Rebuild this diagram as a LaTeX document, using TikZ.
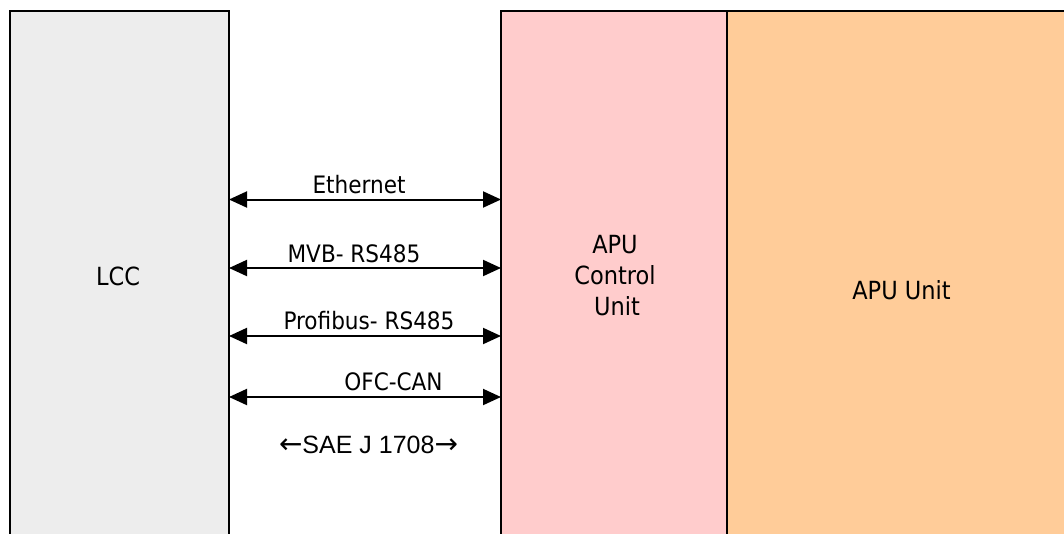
\documentclass[tikz,border=0pt]{standalone}
\usepackage{fontspec}
\setmainfont{DejaVu Sans Condensed}
\newfontfamily\arialfont{Liberation Sans}
\newfontfamily\arrowfont{DejaVu Sans}
\usetikzlibrary{arrows.meta}
\definecolor{lccgray}{HTML}{EDEDED}
\definecolor{apupink}{HTML}{FFCCCC}
\definecolor{apuorange}{HTML}{FFCC99}
\begin{document}
\begin{tikzpicture}[x=1pt,y=-1pt,
  blockbox/.style={draw=black,line width=2pt,inner sep=0pt,outer sep=0pt},
  boxtext/.style={font=\fontsize{25}{31}\selectfont,anchor=base,inner sep=0pt},
  linklabel/.style={font=\fontsize{24}{28}\selectfont,anchor=base,inner sep=0pt},
  link/.style={line width=2pt,{Triangle[length=18pt,width=16pt]}-{Triangle[length=18pt,width=16pt]}}]
\useasboundingbox (0,0) rectangle (1064,533);
% blocks
\draw[blockbox,fill=lccgray] (9.5,10.5) rectangle (229,545);
\draw[blockbox,fill=apuorange] (727,10.5) rectangle (1075,545);
\draw[blockbox,fill=apupink] (501,10.5) rectangle (727,545);
% block labels
\node[boxtext] (lcc) at (118,285) {LCC};
\node[boxtext,align=center] (apucu) at (615,315) {APU\hspace{12pt}\\Control\\\hspace{4pt}Unit};
\node[boxtext] (apuu) at (901.5,299.5) {APU Unit};
% links
\coordinate (eL) at (229,199.5); \coordinate (eR) at (501,199.5);
\coordinate (mL) at (229,268);   \coordinate (mR) at (501,268);
\coordinate (pL) at (229,336);   \coordinate (pR) at (501,336);
\coordinate (oL) at (229,397);   \coordinate (oR) at (501,397);
\draw[link] (eL) -- (eR);
\draw[link] (mL) -- (mR);
\draw[link] (pL) -- (pR);
\draw[link] (oL) -- (oR);
\node[linklabel] (eth) at (359,193) {Ethernet};
\node[linklabel] (mvb) at (354,262) {MVB- RS485};
\node[linklabel] (prof) at (369,329) {Profibus- RS485};
\node[linklabel] (ofc) at (393.5,390) {OFC-CAN};
\node[anchor=base,inner sep=0pt,font=\arialfont\fontsize{25}{30}\selectfont] (sae) at (368.5,453) {{\arrowfont\fontsize{28}{30}\selectfont ←}SAE J 1708{\arrowfont\fontsize{28}{30}\selectfont →}};
\end{tikzpicture}
\end{document}
